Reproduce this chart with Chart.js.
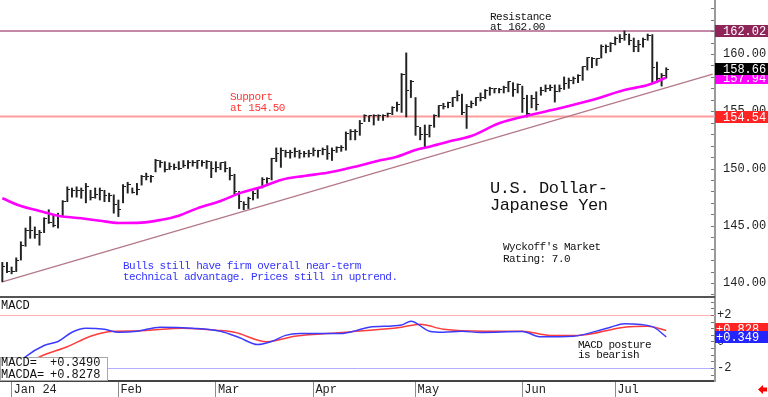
<!DOCTYPE html>
<html>
<head>
<meta charset="utf-8">
<script src="https://cdn.jsdelivr.net/npm/chart.js@4.4.1/dist/chart.umd.min.js"></script>
<style>
  html, body { margin: 0; padding: 0; background: #fff; }
  #wrap { position: relative; width: 768px; height: 397px; overflow: hidden; background: #fff; }
  #price { position: absolute; left: 0; top: 0; }
  #macd { position: absolute; left: 0; top: 298px; }
</style>
</head>
<body>
<div id="wrap">
  <canvas id="price" width="768" height="298"></canvas>
  <canvas id="macd" width="768" height="99"></canvas>
</div>
<script>
// daily bars, Dec 28 2023 .. Jul 16 2024 (trading days)
const firstDay = '2023-12-28';
const dayCount = 154; // axis runs a bit past the last bar
const monthNames = ['Jan 24', 'Feb', 'Mar', 'Apr', 'May', 'Jun', 'Jul'];

const highs = [
  141.8, 141.8, 141.4, 142.2, 143.6, 144.8, 145.8, 144.9, 144.6, 145.7,
  146.4, 145.9, 146.1, 147.2, 148.4, 148.3, 148.4, 148.3, 148.7, 148.1,
  148.3, 148.3, 148.1, 147.85, 147.7, 147.25, 148.6, 148.8, 148.3, 148.7,
  149.4, 149.6, 149.4, 150.8, 150.7, 150.6, 150.5, 150.4, 150.6, 150.7,
  150.7, 150.7, 150.7, 150.7, 150.7, 150.6, 150.6, 150.5, 150.6, 150.1,
  149.5, 148.0, 147.1, 147.5, 148.0, 148.3, 149.2, 149.2, 150.9, 151.8,
  151.8, 151.6, 151.6, 151.8, 151.6, 151.5, 151.6, 151.8, 151.6, 151.8,
  152.0, 151.8, 151.9, 152.0, 153.2, 153.4, 153.4, 154.2, 154.7, 154.6,
  154.7, 154.7, 154.7, 154.85, 155.4, 155.8, 158.3, 160.1, 157.7, 156.2,
  153.6, 153.8, 153.8, 154.7, 155.5, 155.7, 155.8, 156.2, 156.8, 156.5,
  155.6, 155.9, 156.2, 156.6, 156.9, 157.1, 157.0, 157.0, 157.2, 157.6,
  157.5, 157.4, 157.2, 156.4, 156.4, 156.7, 157.1, 157.3, 157.3, 157.3,
  157.3, 158.0, 157.9, 158.0, 158.2, 158.9, 159.7, 159.7, 159.6, 160.8,
  160.8, 161.0, 161.5, 161.7, 162.02, 161.75, 161.4, 161.2, 161.4, 161.75,
  161.7, 159.3, 158.3, 158.8
];
const lows = [
  140.1, 140.9, 140.8, 141.0, 142.0, 143.2, 143.9, 143.9, 143.3, 144.4,
  145.2, 144.9, 144.8, 145.8, 147.1, 147.5, 147.5, 147.4, 147.0, 147.25,
  147.4, 147.25, 147.1, 147.1, 146.1, 145.8, 147.0, 147.85, 147.85, 147.7,
  148.55, 149.0, 148.8, 149.7, 150.1, 149.7, 149.9, 149.9, 149.9, 150.1,
  150.0, 150.2, 150.0, 150.2, 150.0, 149.2, 149.7, 149.9, 149.7, 149.0,
  147.8, 146.5, 146.4, 146.5, 147.25, 147.4, 148.3, 148.7, 149.0, 150.6,
  150.1, 151.0, 150.9, 151.0, 150.9, 151.0, 151.0, 151.1, 151.0, 151.2,
  150.8, 150.7, 151.4, 151.5, 151.6, 152.5, 152.5, 152.9, 154.1, 154.1,
  153.8, 154.2, 154.2, 154.5, 154.7, 155.0, 154.9, 154.5, 156.2, 152.9,
  152.5, 151.8, 152.75, 153.6, 154.5, 155.2, 155.3, 155.4, 155.9, 154.7,
  153.5, 155.3, 155.5, 155.9, 156.1, 156.4, 156.6, 156.6, 156.6, 156.7,
  156.3, 156.6, 154.9, 154.5, 155.3, 155.1, 156.4, 156.7, 156.8, 155.8,
  156.7, 156.9, 157.0, 157.4, 157.5, 157.7, 158.6, 158.8, 159.0, 159.65,
  160.1, 160.2, 160.8, 161.0, 161.2, 160.8, 160.2, 160.2, 160.6, 161.2,
  157.5, 157.5, 157.2, 157.9
];
const closes = [
  141.4, 141.0, 141.0, 142.0, 143.3, 144.6, 144.6, 144.2, 144.4, 145.6,
  145.3, 145.0, 145.8, 147.1, 148.2, 148.1, 148.1, 148.1, 148.4, 147.5,
  147.7, 148.1, 147.6, 147.6, 146.9, 146.4, 148.4, 148.6, 147.9, 148.2,
  149.3, 149.3, 149.3, 150.7, 150.5, 149.9, 150.2, 150.1, 150.0, 150.3,
  150.5, 150.5, 150.7, 150.5, 150.6, 150.0, 150.1, 150.5, 150.0, 149.4,
  148.0, 147.1, 146.9, 147.4, 147.8, 148.3, 149.0, 149.1, 150.9, 151.3,
  151.6, 151.4, 151.4, 151.5, 151.3, 151.3, 151.3, 151.6, 151.6, 151.7,
  151.3, 151.6, 151.8, 151.8, 153.1, 153.2, 153.2, 153.9, 154.6, 154.6,
  154.6, 154.6, 154.6, 154.8, 155.3, 155.6, 158.2, 156.8, 157.6, 153.7,
  153.0, 153.0, 153.8, 154.6, 155.5, 155.4, 155.8, 156.2, 156.4, 154.9,
  155.4, 155.7, 156.2, 156.2, 156.8, 157.0, 157.0, 156.9, 157.1, 157.6,
  156.9, 157.3, 156.1, 154.8, 156.1, 155.6, 156.8, 157.0, 157.1, 156.7,
  157.0, 157.4, 157.7, 157.9, 158.1, 158.9, 159.7, 159.6, 159.6, 160.7,
  160.7, 160.9, 161.4, 161.4, 161.7, 161.2, 160.7, 160.8, 161.3, 161.6,
  158.8, 157.9, 158.1, 158.66
];

// moving average, read at these bar positions
const maIdx = [0, 4, 8, 12, 17, 21, 25, 30, 34, 38, 42, 47, 51, 56, 60, 65, 70, 76, 81, 85,
  89, 92, 96, 101, 107, 113, 120, 127, 134, 139, 143];
const maVals = [147.4, 146.72, 146.29, 145.88, 145.65, 145.44, 145.24, 145.27, 145.5, 145.88,
  146.52, 147.16, 147.83, 148.41, 149.0, 149.35, 149.63, 150.16, 150.68, 151.03,
  151.62, 151.9, 152.34, 152.84, 153.95, 154.61, 155.26, 155.98, 156.86, 157.29, 157.94];

const trendIdx = [0, 153];
const trendVals = [140.1, 158.25];

const resistance = 162.02;
const support = 154.54;
const priceTicks = [140, 145, 150, 155, 160];
const priceFlags = [162.02, 157.94, 158.66, 154.54];

// MACD panel
const macdIdx = [2, 5, 9, 12, 15, 18, 22, 25, 29, 34, 41, 47, 51, 55, 58, 61, 64, 73, 76, 79,
  86, 88, 92, 95, 99, 103, 112, 116, 123, 128, 131, 134, 140, 143];
const macdVals = [-2.2, -1.15, -0.3, 0.0, 0.7, 1.0, 0.92, 0.7, 0.77, 1.08, 1.0, 0.77, 0.3, -0.23, 0.0, 0.46, 0.6, 0.6, 0.8, 1.08,
  1.25, 1.53, 0.78, 0.7, 0.77, 0.68, 0.75, 0.35, 0.4, 0.78, 1.08, 1.34, 1.12, 0.349];
const signalIdx = [3, 8, 14, 19, 24, 29, 39, 46, 50, 57, 63, 74, 86, 90, 95, 104, 112, 118, 124, 134, 139, 143];
const signalVals = [-2.3, -1.17, -0.4, 0.4, 0.77, 0.8, 1.0, 0.85, 0.7, -0.02, 0.4, 0.7, 1.08, 1.3, 0.92, 0.77, 0.77, 0.46, 0.46, 1.08, 1.15, 0.828];
const macdTicks = [-2, 0, 2];
const macdRefs = [2, -2];
const macdLast = 0.3490;
const signalLast = 0.8278;

const MONO = "'Liberation Mono', 'DejaVu Sans Mono', monospace";

function tradingDays(start, n) {
  const out = [];
  const d = new Date(start + 'T00:00:00Z');
  while (out.length < n) {
    const wd = d.getUTCDay();
    if (wd !== 0 && wd !== 6) out.push(d.toISOString().slice(0, 10));
    d.setUTCDate(d.getUTCDate() + 1);
  }
  return out;
}
const days = tradingDays(firstDay, dayCount);

function monthTick(i) {
  if (i <= 0 || i >= days.length) return null;
  const m = days[i].slice(5, 7);
  if (m === days[i - 1].slice(5, 7)) return null;
  return monthNames[parseInt(m, 10) - 1] || null;
}

function pts(idx, vals) {
  return idx.map((k, j) => ({ x: days[k], y: vals[j] }));
}

// close tick drawn to the right of each bar
const closeTick = document.createElement('canvas');
closeTick.width = 6;
closeTick.height = 1;
const tctx = closeTick.getContext('2d');
tctx.fillStyle = '#222';
tctx.fillRect(3, 0, 3, 1);

function text(ctx, s, x, y, size, color, spacing) {
  ctx.font = size + 'px ' + MONO;
  ctx.fillStyle = color;
  ctx.textBaseline = 'middle';
  ctx.textAlign = 'left';
  ctx.letterSpacing = (spacing || 0) + 'px';
  ctx.fillText(s, x, y);
  ctx.letterSpacing = '0px';
}

function flag(ctx, left, y, label, bg, tx) {
  ctx.fillStyle = bg;
  ctx.fillRect(left, Math.round(y) - 6, 768 - left, 12);
  text(ctx, label, tx, Math.round(y) + 0.5, 12, '#fff', 0);
}

const pricePlugin = {
  id: 'priceDecor',
  beforeDatasetsDraw(chart) {
    const { ctx, chartArea: a, scales: { y } } = chart;
    ctx.save();
    ctx.strokeStyle = '#b0608c';
    ctx.lineWidth = 1.5;
    let py = y.getPixelForValue(resistance);
    ctx.beginPath(); ctx.moveTo(a.left, py); ctx.lineTo(a.right, py); ctx.stroke();
    ctx.strokeStyle = '#ff9c9c';
    ctx.lineWidth = 2;
    py = y.getPixelForValue(support);
    ctx.beginPath(); ctx.moveTo(a.left, py); ctx.lineTo(a.right, py); ctx.stroke();
    ctx.restore();
  },
  afterDraw(chart) {
    const { ctx, chartArea: a, scales: { y } } = chart;
    ctx.save();
    // minor ticks on the price axis
    ctx.strokeStyle = '#777';
    ctx.lineWidth = 1;
    for (let v = 139; v <= 164; v++) {
      const py = Math.round(y.getPixelForValue(v)) + 0.5;
      ctx.beginPath(); ctx.moveTo(a.right - 4, py); ctx.lineTo(a.right - 1, py); ctx.stroke();
    }
    // panel bottom
    ctx.fillStyle = '#555';
    ctx.fillRect(0, a.bottom - 2, a.right, 2);

    text(ctx, 'Resistance', 490, 17, 11, '#111', -0.5);
    text(ctx, 'at 162.00', 490, 27.5, 11, '#111', -0.5);
    text(ctx, 'Support', 230, 97.5, 11, '#ff3636', -0.5);
    text(ctx, 'at 154.50', 230, 108, 11, '#ff3636', -0.5);
    text(ctx, 'U.S. Dollar-', 490, 188, 17, '#111', -0.4);
    text(ctx, 'Japanese Yen', 490, 205, 17, '#111', -0.4);
    text(ctx, "Wyckoff's Market", 503, 247, 11, '#111', -0.5);
    text(ctx, 'Rating: 7.0', 503, 259, 11, '#111', -0.5);
    text(ctx, 'Bulls still have firm overall near-term', 123, 266, 11, '#3434ff', -0.5);
    text(ctx, 'technical advantage. Prices still in uptrend.', 123, 277, 11, '#3434ff', -0.5);

    const bgs = ['#8e2458', '#ff00ff', '#000000', '#ff2424'];
    priceFlags.forEach((v, k) => {
      flag(ctx, a.right, y.getPixelForValue(v), v.toFixed(2), bgs[k], a.right + 8);
    });
    ctx.restore();
  }
};

const macdPlugin = {
  id: 'macdDecor',
  beforeDatasetsDraw(chart) {
    const { ctx, chartArea: a, scales: { y } } = chart;
    ctx.save();
    ctx.lineWidth = 1;
    const cols = ['#ffb0b0', '#b0b0ff'];
    macdRefs.forEach((v, k) => {
      const py = Math.round(y.getPixelForValue(v)) + 0.5;
      ctx.strokeStyle = cols[k];
      ctx.beginPath(); ctx.moveTo(a.left, py); ctx.lineTo(a.right, py); ctx.stroke();
    });
    ctx.restore();
  },
  afterDraw(chart) {
    const { ctx, chartArea: a, scales: { y } } = chart;
    ctx.save();
    ctx.strokeStyle = '#777';
    ctx.lineWidth = 1;
    for (let v = -2.5; v <= 3; v += 0.5) {
      const py = Math.round(y.getPixelForValue(v)) + 0.5;
      ctx.beginPath(); ctx.moveTo(a.right - 4, py); ctx.lineTo(a.right - 1, py); ctx.stroke();
    }
    text(ctx, 'MACD', 1, 8, 12, '#111', 0);
    text(ctx, 'MACD posture', 578, 47, 11, '#111', -0.5);
    text(ctx, 'is bearish', 578, 57.5, 11, '#111', -0.5);

    // readout box
    ctx.fillStyle = '#fff';
    ctx.fillRect(0, 59, 108, a.bottom - 59);
    ctx.strokeStyle = '#a8a8a8';
    ctx.strokeRect(0.5, 59.5, 107, a.bottom - 60);
    const fmt = v => (v >= 0 ? '+' : '') + v.toFixed(4);
    text(ctx, 'MACD=', 1, 65, 12, '#111', 0);
    text(ctx, fmt(macdLast), 50, 65, 12, '#111', 0);
    text(ctx, 'MACDA=', 1, 77, 12, '#111', 0);
    text(ctx, fmt(signalLast), 50, 77, 12, '#111', 0);

    const sLast = signalVals[signalVals.length - 1];
    const mLast = macdVals[macdVals.length - 1];
    flag(ctx, a.right, y.getPixelForValue(sLast) - 2, '+' + sLast.toFixed(3), '#ff2424', a.right + 1);
    flag(ctx, a.right, y.getPixelForValue(mLast), '+' + mLast.toFixed(3), '#2424ff', a.right + 1);

    // little red arrow, bottom right
    ctx.fillStyle = '#ff0000';
    ctx.beginPath();
    ctx.moveTo(758, 91.5); ctx.lineTo(763, 87); ctx.lineTo(763, 89.5); ctx.lineTo(767, 89.5);
    ctx.lineTo(767, 93.5); ctx.lineTo(763, 93.5); ctx.lineTo(763, 96); ctx.closePath();
    ctx.fill();
    ctx.restore();
  }
};

const common = {
  responsive: false,
  animation: false,
  devicePixelRatio: 1,
  events: [],
  layout: { padding: 0, autoPadding: false },
  plugins: { legend: { display: false }, tooltip: { enabled: false } }
};

new Chart(document.getElementById('price'), {
  type: 'bar',
  data: {
    labels: days,
    datasets: [
      {
        type: 'line', data: pts(trendIdx, trendVals), borderColor: '#b47888',
        borderWidth: 1.3, pointRadius: 0, order: 4
      },
      {
        data: highs.map((h, i) => [lows[i], h]), backgroundColor: '#222',
        barThickness: 1.3, order: 3
      },
      {
        type: 'line', data: closes, showLine: false, pointStyle: closeTick,
        pointRadius: 3, order: 2
      },
      {
        type: 'line', data: pts(maIdx, maVals), borderColor: '#ff00ff', borderWidth: 2.6,
        pointRadius: 0, cubicInterpolationMode: 'monotone', order: 1
      }
    ]
  },
  options: Object.assign({}, common, {
    scales: {
      x: { display: false, offset: true },
      y: {
        position: 'right', min: 138.69, max: 164.72,
        afterFit(s) { s.width = 53; s.paddingTop = 0; s.paddingBottom = 0; },
        afterBuildTicks(s) { s.ticks = priceTicks.map(v => ({ value: v })); },
        grid: { display: false, drawTicks: false },
        border: { display: true, color: '#9a9a9a', width: 2 },
        ticks: {
          padding: 8, color: '#222', font: { family: MONO, size: 12 },
          callback: v => Number(v).toFixed(2)
        }
      }
    }
  }),
  plugins: [pricePlugin]
});

new Chart(document.getElementById('macd'), {
  type: 'line',
  data: {
    labels: days,
    datasets: [
      {
        data: pts(macdIdx, macdVals), borderColor: '#3b3bff', borderWidth: 1.5,
        pointRadius: 0, cubicInterpolationMode: 'monotone'
      },
      {
        data: pts(signalIdx, signalVals), borderColor: '#ff3b3b', borderWidth: 1.5,
        pointRadius: 0, cubicInterpolationMode: 'monotone'
      }
    ]
  },
  options: Object.assign({}, common, {
    scales: {
      x: {
        offset: true,
        afterFit(s) { s.height = 16; s.paddingLeft = 0; s.paddingRight = 0; },
        grid: {
          display: true, drawOnChartArea: false, drawTicks: true, tickLength: 16,
          offset: false, color: '#8c8c8c', lineWidth: 1
        },
        border: { display: true, color: '#444', width: 2 },
        ticks: {
          autoSkip: false, maxRotation: 0, minRotation: 0, align: 'start',
          labelOffset: 2, padding: -14, color: '#222', font: { family: MONO, size: 12 },
          callback: (v, i) => monthTick(i)
        }
      },
      y: {
        position: 'right', min: -2.98, max: 3.28,
        afterFit(s) { s.width = 53; s.paddingTop = 0; s.paddingBottom = 0; },
        afterBuildTicks(s) { s.ticks = macdTicks.map(v => ({ value: v })); },
        grid: { display: false, drawTicks: false },
        border: { display: true, color: '#9a9a9a', width: 2 },
        ticks: {
          padding: 2, color: '#222', font: { family: MONO, size: 12 },
          callback: v => (v > 0 ? '+' : '') + v
        }
      }
    }
  }),
  plugins: [macdPlugin]
});
</script>
</body>
</html>
